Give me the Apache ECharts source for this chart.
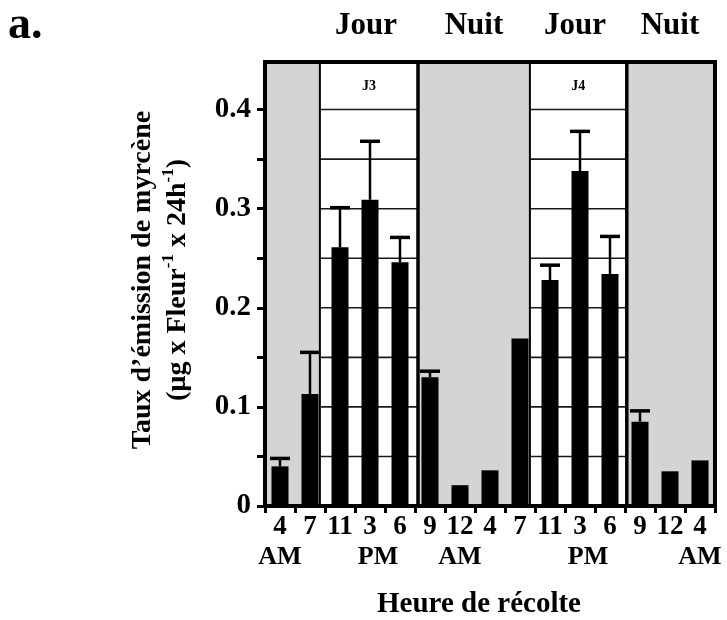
<!DOCTYPE html>
<html><head><meta charset="utf-8">
<script src="https://cdn.jsdelivr.net/npm/echarts@6/dist/echarts.min.js"></script>
<style>html,body{margin:0;padding:0;background:#fff}#c{width:727px;height:620px}</style>
</head><body><div id="c"></div>
<script>
const categories = ['4','7','11','3','6','9','12','4','7','11','3','6','9','12','4'];
const periods = ['AM','','','PM','','','AM','','','','PM','','','','AM'];
const values = [0.040,0.113,0.261,0.309,0.246,0.130,0.021,0.036,0.169,0.228,0.338,0.234,0.085,0.035,0.046];
const errors = [0.008,0.042,0.040,0.059,0.025,0.006,0,0,0,0.015,0.040,0.038,0.011,0,0];
const yLabelValues = [0,0.1,0.2,0.3,0.4];
const yTickValues = [0,0.05,0.1,0.15,0.2,0.25,0.3,0.35,0.4];
const dayStarts = [1.83, 8.83];
const dayEnds = [5.1, 12.06];
const dayLabels = ['J3','J4'];
const headers = ['Jour','Nuit','Jour','Nuit'];
const yMax = 0.448;

const FONT = '"Liberation Serif","Times New Roman",serif';
const chart = echarts.init(document.getElementById('c'), null, {renderer:'canvas'});

const headerX = [366, 474, 575, 670];
const graphic = [
  {type:'text', x:8, y:3, style:{text:'a.', font:'bold 46px '+FONT, fill:'#000'}},
  {type:'text', x:160, y:280, rotation:Math.PI/2,
   style:{text:'{m|Taux d’émission de myrcène}\n{m|(µg x Fleur}{s|-1}{m| x 24h}{s|-1}{m|)}',
     align:'center', verticalAlign:'middle',
     rich:{m:{font:'bold 28px '+FONT, fill:'#000', lineHeight:35},
           s:{font:'bold 17px '+FONT, fill:'#000', lineHeight:35, verticalAlign:'top'}}}},
  {type:'text', x:479, y:605, style:{text:'Heure de récolte', font:'bold 29px '+FONT, fill:'#000', align:'center', verticalAlign:'middle'}}
];
headers.forEach((h,i)=>graphic.push({type:'text', x:headerX[i], y:26, style:{text:h, font:'bold 31px '+FONT, fill:'#000', align:'center', verticalAlign:'middle'}}));

const option = {
  animation:false,
  backgroundColor:'#fff',
  grid:{left:265, right:12, top:62, bottom:114, show:true, backgroundColor:'#d4d4d4', borderColor:'#000', borderWidth:4},
  graphic: graphic,
  xAxis:[
    {type:'category', data:categories, position:'bottom',
     axisLine:{show:true, lineStyle:{color:'#000', width:4}},
     axisTick:{show:true, interval:0, length:7, lineStyle:{color:'#000', width:3}},
     axisLabel:{interval:0, margin:8, color:'#000',
       formatter:(v,i)=>'{n|'+v+'}\n'+(periods[i]==='PM'?'{pm|PM}':'{p|'+(periods[i]||' ')+'}'),
       rich:{n:{fontFamily:FONT, fontWeight:'bold', fontSize:27, lineHeight:27, color:'#000'},
             p:{fontFamily:FONT, fontWeight:'bold', fontSize:26, lineHeight:32, color:'#000'},
             pm:{fontFamily:FONT, fontWeight:'bold', fontSize:26, lineHeight:32, color:'#000', padding:[0,0,0,16]}}},
     splitLine:{show:false}, z:10},
    {type:'value', min:0, max:categories.length, show:false}
  ],
  yAxis:[{type:'value', min:0, max:yMax,
     axisLine:{show:true, lineStyle:{color:'#000', width:4}},
     axisTick:{show:true, customValues:yTickValues, length:8, lineStyle:{color:'#000', width:3}},
     axisLabel:{customValues:yLabelValues, margin:14, color:'#000', fontFamily:FONT, fontWeight:'bold', fontSize:29,
       formatter:v=>v===0?'0':v.toFixed(1)},
     splitLine:{show:false}, z:10}],
  series:[
    {type:'custom', xAxisIndex:1, yAxisIndex:0, z:1, silent:true,
     data: dayStarts.map((s,i)=>[s, dayEnds[i], i]),
     renderItem:(params, api)=>{
       const x0 = api.coord([api.value(0),0])[0];
       const x1 = api.coord([api.value(1),0])[0];
       const cs = params.coordSys;
       const top = cs.y, bottom = cs.y + cs.height;
       const children = [{type:'rect', shape:{x:x0, y:top+2, width:x1-x0, height:bottom-top-2}, style:{fill:'#fff'}}];
       yTickValues.slice(1).forEach(v=>{
         const y = api.coord([0,v])[1];
         children.push({type:'line', shape:{x1:x0, y1:y, x2:x1, y2:y}, style:{stroke:'#1a1a1a', lineWidth:1.6}});
       });
       children.push({type:'line', shape:{x1:x0, y1:top, x2:x0, y2:bottom}, style:{stroke:'#000', lineWidth:2}});
       children.push({type:'line', shape:{x1:x1, y1:top, x2:x1, y2:bottom}, style:{stroke:'#000', lineWidth:3.5}});
       const y4 = api.coord([0, yLabelValues[yLabelValues.length-1]])[1];
       children.push({type:'text', x:(x0+x1)/2, y:(top+y4)/2+1, style:{text:dayLabels[api.value(2)], font:'bold 14px '+FONT, fill:'#000', align:'center', verticalAlign:'middle'}});
       return {type:'group', children};
     }},
    {type:'bar', data:values, barWidth:17, itemStyle:{color:'#000'}, z:3, silent:true},
    {type:'custom', z:4, silent:true,
     data: values.map((v,i)=>[i, v, errors[i]]),
     renderItem:(params, api)=>{
       const e = api.value(2);
       if (!e) return {type:'group', children:[]};
       const p0 = api.coord([api.value(0), api.value(1)]);
       const p1 = api.coord([api.value(0), api.value(1)+e]);
       return {type:'group', children:[
         {type:'line', shape:{x1:p0[0], y1:p0[1], x2:p1[0], y2:p1[1]}, style:{stroke:'#000', lineWidth:2.5}},
         {type:'line', shape:{x1:p1[0]-10, y1:p1[1], x2:p1[0]+10, y2:p1[1]}, style:{stroke:'#000', lineWidth:3.5}}
       ]};
     }}
  ]
};
chart.setOption(option);
</script></body></html>
